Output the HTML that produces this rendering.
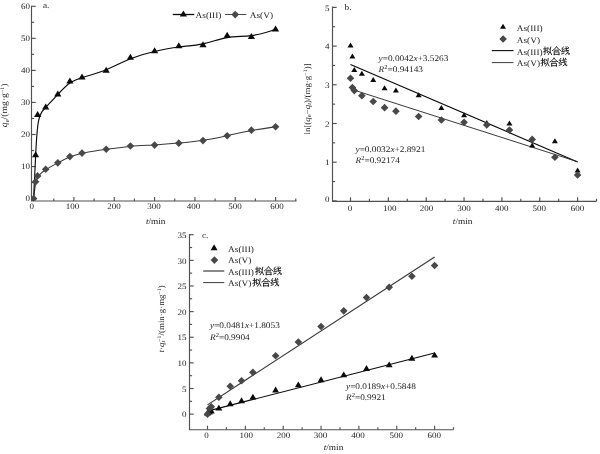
<!DOCTYPE html>
<html><head><meta charset="utf-8"><title>chart</title>
<style>
html,body{margin:0;padding:0;background:#fff;}
body{width:600px;height:454px;overflow:hidden;font-family:"Liberation Serif",serif;}
svg{display:block;will-change:transform;}
text{font-family:"Liberation Serif",serif;fill:#1c1c1c;text-rendering:geometricPrecision;}
.i{font-style:italic}
</style></head><body>
<svg width="600" height="454" viewBox="0 0 600 454">

<rect width="600" height="454" fill="#fff"/>

<g stroke="#505050" stroke-width="1.15" fill="none"><path d="M31.5 5.7V201H296.5"/><path d="M33.60 201v-4"/><path d="M73.93 201v-4"/><path d="M114.26 201v-4"/><path d="M154.59 201v-4"/><path d="M194.92 201v-4"/><path d="M235.25 201v-4"/><path d="M275.58 201v-4"/><path d="M53.77 201v-2.5"/><path d="M94.09 201v-2.5"/><path d="M134.43 201v-2.5"/><path d="M174.75 201v-2.5"/><path d="M215.08 201v-2.5"/><path d="M255.41 201v-2.5"/><path d="M295.75 201v-2.5"/><path d="M31.5 198.60h4.2"/><path d="M31.5 166.55h4.2"/><path d="M31.5 134.50h4.2"/><path d="M31.5 102.45h4.2"/><path d="M31.5 70.40h4.2"/><path d="M31.5 38.35h4.2"/><path d="M31.5 6.30h4.2"/><path d="M31.5 182.57h2.6"/><path d="M31.5 150.52h2.6"/><path d="M31.5 118.47h2.6"/><path d="M31.5 86.42h2.6"/><path d="M31.5 54.38h2.6"/><path d="M31.5 22.32h2.6"/></g><text transform="translate(31.80 208.70) scale(1.08 1)" font-size="8.33" text-anchor="middle" >0</text><text transform="translate(72.50 208.70) scale(1.08 1)" font-size="8.33" text-anchor="middle" >100</text><text transform="translate(114.00 208.70) scale(1.08 1)" font-size="8.33" text-anchor="middle" >200</text><text transform="translate(154.00 208.70) scale(1.08 1)" font-size="8.33" text-anchor="middle" >300</text><text transform="translate(193.40 208.70) scale(1.08 1)" font-size="8.33" text-anchor="middle" >400</text><text transform="translate(234.90 208.70) scale(1.08 1)" font-size="8.33" text-anchor="middle" >500</text><text transform="translate(276.90 208.70) scale(1.08 1)" font-size="8.33" text-anchor="middle" >600</text><text transform="translate(29.90 201.40) scale(1.08 1)" font-size="8.33" text-anchor="end" >0</text><text transform="translate(29.90 169.35) scale(1.08 1)" font-size="8.33" text-anchor="end" >10</text><text transform="translate(29.90 137.30) scale(1.08 1)" font-size="8.33" text-anchor="end" >20</text><text transform="translate(29.90 105.25) scale(1.08 1)" font-size="8.33" text-anchor="end" >30</text><text transform="translate(29.90 73.20) scale(1.08 1)" font-size="8.33" text-anchor="end" >40</text><text transform="translate(29.90 41.15) scale(1.08 1)" font-size="8.33" text-anchor="end" >50</text><text transform="translate(29.90 9.10) scale(1.08 1)" font-size="8.33" text-anchor="end" >60</text>
<path d="M33.60 198.60C33.60 198.60 33.60 198.60 33.94 195.78C34.27 192.97 34.94 187.34 35.62 183.56C36.29 179.78 36.96 177.84 38.64 175.76C40.32 173.69 43.01 171.46 46.37 169.28C49.73 167.11 53.77 164.97 57.80 162.86C61.83 160.76 65.86 158.69 69.90 157.06C73.93 155.44 77.96 154.26 84.01 153.04C90.06 151.81 98.13 150.53 106.19 149.35C114.26 148.17 122.33 147.11 130.39 146.41C138.46 145.72 146.52 145.40 154.59 144.92C162.66 144.44 170.72 143.79 178.79 143.05C186.85 142.30 194.92 141.44 202.99 140.22C211.05 138.99 219.12 137.38 227.18 135.65C235.25 133.91 243.32 132.04 251.38 130.55C259.45 129.05 267.51 127.93 271.55 127.37C275.58 126.81 275.58 126.81 275.58 126.81" fill="none" stroke="#3a3a3a" stroke-width="1.05"/>
<path d="M33.60 198.60C33.60 198.60 33.60 198.60 33.94 191.39C34.27 184.18 34.94 169.75 35.62 155.81C36.29 141.87 36.96 128.41 38.64 120.45C40.32 112.49 43.01 110.04 46.37 106.62C49.73 103.20 53.77 98.82 57.80 94.49C61.83 90.16 65.86 85.89 69.90 83.06C73.93 80.23 77.96 78.84 84.01 77.02C90.06 75.21 98.13 72.96 106.19 69.68C114.26 66.39 122.33 62.07 130.39 58.81C138.46 55.55 146.52 53.36 154.59 51.46C162.66 49.57 170.72 47.96 178.79 46.98C186.85 45.99 194.92 45.61 202.99 43.85C211.05 42.09 219.12 38.94 227.18 37.58C235.25 36.21 243.32 36.64 251.38 35.57C259.45 34.50 267.51 31.94 271.55 30.66C275.58 29.38 275.58 29.38 275.58 29.38" fill="none" stroke="#0a0a0a" stroke-width="1.15"/>
<clipPath id="ca"><rect x="31.5" y="0" width="270" height="201"/></clipPath><g clip-path="url(#ca)">
<path d="M29.80 198.60L33.60 194.80L37.40 198.60L33.60 202.40Z" fill="#484848"/>
<path d="M31.82 181.71L35.62 177.91L39.42 181.71L35.62 185.51Z" fill="#484848"/>
<path d="M33.83 175.91L37.63 172.11L41.43 175.91L37.63 179.71Z" fill="#484848"/>
<path d="M41.90 169.24L45.70 165.44L49.50 169.24L45.70 173.04Z" fill="#484848"/>
<path d="M54.00 162.83L57.80 159.03L61.60 162.83L57.80 166.63Z" fill="#484848"/>
<path d="M66.10 156.61L69.90 152.81L73.70 156.61L69.90 160.41Z" fill="#484848"/>
<path d="M78.20 153.09L82.00 149.29L85.80 153.09L82.00 156.89Z" fill="#484848"/>
<path d="M102.39 149.24L106.19 145.44L109.99 149.24L106.19 153.04Z" fill="#484848"/>
<path d="M126.59 146.04L130.39 142.24L134.19 146.04L130.39 149.84Z" fill="#484848"/>
<path d="M150.79 145.08L154.59 141.28L158.39 145.08L154.59 148.88Z" fill="#484848"/>
<path d="M174.99 143.15L178.79 139.35L182.59 143.15L178.79 146.95Z" fill="#484848"/>
<path d="M199.19 140.59L202.99 136.79L206.79 140.59L202.99 144.39Z" fill="#484848"/>
<path d="M223.38 135.78L227.18 131.98L230.98 135.78L227.18 139.58Z" fill="#484848"/>
<path d="M247.58 130.17L251.38 126.37L255.18 130.17L251.38 133.97Z" fill="#484848"/>
<path d="M271.78 126.81L275.58 123.01L279.38 126.81L275.58 130.61Z" fill="#484848"/>
</g>
<path d="M32.02 157.33L39.22 157.33L35.62 151.33Z" fill="#0a0a0a"/>
<path d="M34.03 116.95L41.23 116.95L37.63 110.95Z" fill="#0a0a0a"/>
<path d="M42.10 109.58L49.30 109.58L45.70 103.58Z" fill="#0a0a0a"/>
<path d="M54.20 96.44L61.40 96.44L57.80 90.44Z" fill="#0a0a0a"/>
<path d="M66.30 83.62L73.50 83.62L69.90 77.62Z" fill="#0a0a0a"/>
<path d="M78.40 79.45L85.60 79.45L82.00 73.45Z" fill="#0a0a0a"/>
<path d="M102.59 72.72L109.79 72.72L106.19 66.72Z" fill="#0a0a0a"/>
<path d="M126.79 59.74L133.99 59.74L130.39 53.74Z" fill="#0a0a0a"/>
<path d="M150.99 53.17L158.19 53.17L154.59 47.17Z" fill="#0a0a0a"/>
<path d="M175.19 48.36L182.39 48.36L178.79 42.36Z" fill="#0a0a0a"/>
<path d="M199.39 47.24L206.59 47.24L202.99 41.24Z" fill="#0a0a0a"/>
<path d="M223.58 37.79L230.78 37.79L227.18 31.79Z" fill="#0a0a0a"/>
<path d="M247.78 39.07L254.98 39.07L251.38 33.07Z" fill="#0a0a0a"/>
<path d="M271.98 31.38L279.18 31.38L275.58 25.38Z" fill="#0a0a0a"/>
<text transform="translate(43.00 7.70) scale(1.08 1)" font-size="8.61" text-anchor="start" >a.</text>
<path d="M172.8 14.5H194.3" stroke="#0a0a0a" stroke-width="1.3"/>
<path d="M179.80 16.60L187.00 16.60L183.40 10.60Z" fill="#0a0a0a"/>
<text transform="translate(195.60 17.60) scale(1.08 1)" font-size="8.61" text-anchor="start" >As(III)</text>
<path d="M225 14.5H246.3" stroke="#484848" stroke-width="1"/>
<path d="M231.40 14.60L235.20 10.80L239.00 14.60L235.20 18.40Z" fill="#484848"/>
<text transform="translate(249.80 17.60) scale(1.08 1)" font-size="8.61" text-anchor="start" >As(V)</text>
<text transform="translate(155.70 224.20) scale(1.08 1)" font-size="8.61" text-anchor="middle" ><tspan class="i">t</tspan>/min</text>
<g transform="translate(7.4,105.3) rotate(-90)"><text transform="translate(0.00 0.00) scale(1.08 1)" font-size="8.98" text-anchor="middle" ><tspan class="i">q</tspan><tspan font-size="6" dy="1.5">e</tspan><tspan dy="-1.5">/(mg·g</tspan><tspan font-size="5.5" dy="-3">−1</tspan><tspan dy="3">)</tspan></text></g>
<g stroke="#505050" stroke-width="1.15" fill="none"><path d="M332.5 6.5V201.3H596.5"/><path d="M350.50 201.3v-4"/><path d="M388.35 201.3v-4"/><path d="M426.20 201.3v-4"/><path d="M464.05 201.3v-4"/><path d="M501.90 201.3v-4"/><path d="M539.75 201.3v-4"/><path d="M577.60 201.3v-4"/><path d="M369.43 201.3v-2.5"/><path d="M407.27 201.3v-2.5"/><path d="M445.12 201.3v-2.5"/><path d="M482.98 201.3v-2.5"/><path d="M520.83 201.3v-2.5"/><path d="M558.67 201.3v-2.5"/><path d="M596.52 201.3v-2.5"/><path d="M332.5 200.90h4.2"/><path d="M332.5 162.20h4.2"/><path d="M332.5 123.50h4.2"/><path d="M332.5 84.80h4.2"/><path d="M332.5 46.10h4.2"/><path d="M332.5 7.40h4.2"/><path d="M332.5 181.55h2.6"/><path d="M332.5 142.85h2.6"/><path d="M332.5 104.15h2.6"/><path d="M332.5 65.45h2.6"/><path d="M332.5 26.75h2.6"/></g><text transform="translate(349.90 211.10) scale(1.08 1)" font-size="8.33" text-anchor="middle" >0</text><text transform="translate(389.80 211.10) scale(1.08 1)" font-size="8.33" text-anchor="middle" >100</text><text transform="translate(426.60 211.10) scale(1.08 1)" font-size="8.33" text-anchor="middle" >200</text><text transform="translate(464.10 211.10) scale(1.08 1)" font-size="8.33" text-anchor="middle" >300</text><text transform="translate(501.80 211.10) scale(1.08 1)" font-size="8.33" text-anchor="middle" >400</text><text transform="translate(539.20 211.10) scale(1.08 1)" font-size="8.33" text-anchor="middle" >500</text><text transform="translate(577.60 211.10) scale(1.08 1)" font-size="8.33" text-anchor="middle" >600</text><text transform="translate(329.50 202.10) scale(1.08 1)" font-size="8.33" text-anchor="end" >0</text><text transform="translate(329.50 165.30) scale(1.08 1)" font-size="8.33" text-anchor="end" >1</text><text transform="translate(329.50 126.60) scale(1.08 1)" font-size="8.33" text-anchor="end" >2</text><text transform="translate(329.50 87.90) scale(1.08 1)" font-size="8.33" text-anchor="end" >3</text><text transform="translate(329.50 49.20) scale(1.08 1)" font-size="8.33" text-anchor="end" >4</text><text transform="translate(329.50 10.50) scale(1.08 1)" font-size="8.33" text-anchor="end" >5</text>
<path d="M350.50 64.43L577.60 161.96" stroke="#0a0a0a" stroke-width="1.2"/>
<path d="M350.50 88.98L577.60 161.74" stroke="#2e2e2e" stroke-width="0.95"/>
<path d="M347.50 47.61L353.50 47.61L350.50 42.61Z" fill="#0a0a0a"/>
<path d="M349.39 58.44L355.39 58.44L352.39 53.44Z" fill="#0a0a0a"/>
<path d="M351.29 71.99L357.29 71.99L354.29 66.99Z" fill="#0a0a0a"/>
<path d="M358.86 75.86L364.86 75.86L361.86 70.86Z" fill="#0a0a0a"/>
<path d="M370.21 82.05L376.21 82.05L373.21 77.05Z" fill="#0a0a0a"/>
<path d="M381.56 90.18L387.56 90.18L384.56 85.18Z" fill="#0a0a0a"/>
<path d="M392.92 92.50L398.92 92.50L395.92 87.50Z" fill="#0a0a0a"/>
<path d="M415.63 97.14L421.63 97.14L418.63 92.14Z" fill="#0a0a0a"/>
<path d="M438.34 109.91L444.34 109.91L441.34 104.91Z" fill="#0a0a0a"/>
<path d="M461.05 117.27L467.05 117.27L464.05 112.27Z" fill="#0a0a0a"/>
<path d="M483.76 125.01L489.76 125.01L486.76 120.01Z" fill="#0a0a0a"/>
<path d="M506.47 125.39L512.47 125.39L509.47 120.39Z" fill="#0a0a0a"/>
<path d="M529.18 147.45L535.18 147.45L532.18 142.45Z" fill="#0a0a0a"/>
<path d="M551.89 143.19L557.89 143.19L554.89 138.19Z" fill="#0a0a0a"/>
<path d="M574.60 172.61L580.60 172.61L577.60 167.61Z" fill="#0a0a0a"/>
<path d="M346.70 78.23L350.50 74.43L354.30 78.23L350.50 82.03Z" fill="#484848"/>
<path d="M348.59 87.52L352.39 83.72L356.19 87.52L352.39 91.32Z" fill="#484848"/>
<path d="M350.49 90.62L354.29 86.82L358.09 90.62L354.29 94.42Z" fill="#484848"/>
<path d="M358.06 95.65L361.86 91.85L365.66 95.65L361.86 99.45Z" fill="#484848"/>
<path d="M369.41 101.45L373.21 97.65L377.01 101.45L373.21 105.25Z" fill="#484848"/>
<path d="M380.76 107.65L384.56 103.85L388.37 107.65L384.56 111.45Z" fill="#484848"/>
<path d="M392.12 111.13L395.92 107.33L399.72 111.13L395.92 114.93Z" fill="#484848"/>
<path d="M414.83 116.55L418.63 112.75L422.43 116.55L418.63 120.35Z" fill="#484848"/>
<path d="M437.54 120.03L441.34 116.23L445.14 120.03L441.34 123.83Z" fill="#484848"/>
<path d="M460.25 122.35L464.05 118.55L467.85 122.35L464.05 126.15Z" fill="#484848"/>
<path d="M482.96 125.06L486.76 121.26L490.56 125.06L486.76 128.86Z" fill="#484848"/>
<path d="M505.67 130.09L509.47 126.29L513.27 130.09L509.47 133.89Z" fill="#484848"/>
<path d="M528.38 139.38L532.18 135.58L535.98 139.38L532.18 143.18Z" fill="#484848"/>
<path d="M551.09 157.18L554.89 153.38L558.69 157.18L554.89 160.98Z" fill="#484848"/>
<path d="M573.80 174.98L577.60 171.18L581.40 174.98L577.60 178.78Z" fill="#484848"/>
<text transform="translate(344.50 9.50) scale(1.08 1)" font-size="8.61" text-anchor="start" >b.</text>
<path d="M500.00 28.87L506.00 28.87L503.00 23.87Z" fill="#0a0a0a"/>
<path d="M499.30 39.00L503.10 35.20L506.90 39.00L503.10 42.80Z" fill="#484848"/>
<path d="M491.8 50.6H513.5" stroke="#0a0a0a" stroke-width="1.1"/>
<path d="M491.8 62.6H513.5" stroke="#222" stroke-width="0.9"/>
<text transform="translate(516.80 31.00) scale(1.08 1)" font-size="8.61" text-anchor="start" >As(III)</text>
<text transform="translate(516.80 42.80) scale(1.08 1)" font-size="8.61" text-anchor="start" >As(V)</text>
<text transform="translate(516.80 54.60) scale(1.08 1)" font-size="8.61" text-anchor="start" >As(III)</text>
<g transform="translate(543.00 54.50) scale(1.0)"><g fill="none" stroke="#1c1c1c" stroke-width="0.92" stroke-linecap="round" stroke-linejoin="round">
<!-- 拟 -->
<path d="M0.6 -5.6H3.2M2 -7.6V-0.4Q2 0.3 1.2 0.1M0.5 -2.6L3.3 -3.9"/>
<path d="M4.2 -6.8V-1.6L5.6 -3M5.5 -6.6L6.2 -5.2M7.8 -7.4Q7.8 -2.4 5.2 0.3M7.2 -2.8L8.6 0.2"/>
<!-- 合 -->
<path d="M13.5 -7.8Q12 -5.2 9.4 -3.8M13.5 -7.8Q15 -5.2 17.8 -3.8M11.6 -4.3H15.6M11.2 -2.6V0.4M11.2 -2.6H16V0.4M11.2 -0.2H16"/>
<!-- 线 -->
<path d="M20.4 -7.6L18.8 -5.4L20.6 -5.2L18.6 -2.6L21 -3M18.6 -0.6L21 -1.4"/>
<path d="M21.6 -5.6L25.4 -6.2M21.4 -3.4L25.8 -4.2M23 -7.8Q23.4 -2 26 0.2L26.3 -1M25.6 -2.6L22.6 0M24.8 -7.6L25.6 -6.9"/>
</g></g>
<text transform="translate(516.80 66.00) scale(1.08 1)" font-size="8.61" text-anchor="start" >As(V)</text>
<g transform="translate(540.50 65.90) scale(1.0)"><g fill="none" stroke="#1c1c1c" stroke-width="0.92" stroke-linecap="round" stroke-linejoin="round">
<!-- 拟 -->
<path d="M0.6 -5.6H3.2M2 -7.6V-0.4Q2 0.3 1.2 0.1M0.5 -2.6L3.3 -3.9"/>
<path d="M4.2 -6.8V-1.6L5.6 -3M5.5 -6.6L6.2 -5.2M7.8 -7.4Q7.8 -2.4 5.2 0.3M7.2 -2.8L8.6 0.2"/>
<!-- 合 -->
<path d="M13.5 -7.8Q12 -5.2 9.4 -3.8M13.5 -7.8Q15 -5.2 17.8 -3.8M11.6 -4.3H15.6M11.2 -2.6V0.4M11.2 -2.6H16V0.4M11.2 -0.2H16"/>
<!-- 线 -->
<path d="M20.4 -7.6L18.8 -5.4L20.6 -5.2L18.6 -2.6L21 -3M18.6 -0.6L21 -1.4"/>
<path d="M21.6 -5.6L25.4 -6.2M21.4 -3.4L25.8 -4.2M23 -7.8Q23.4 -2 26 0.2L26.3 -1M25.6 -2.6L22.6 0M24.8 -7.6L25.6 -6.9"/>
</g></g>
<text transform="translate(378.60 61.00) scale(1.08 1)" font-size="8.61" text-anchor="start" ><tspan class="i">y</tspan>=0.0042<tspan class="i">x</tspan>+3.5263</text>
<text transform="translate(378.60 72.00) scale(1.08 1)" font-size="8.61" text-anchor="start" ><tspan class="i">R</tspan><tspan font-size="6" dy="-3">2</tspan><tspan dy="3">=0.94143</tspan></text>
<text transform="translate(355.50 151.50) scale(1.08 1)" font-size="8.61" text-anchor="start" ><tspan class="i">y</tspan>=0.0032<tspan class="i">x</tspan>+2.8921</text>
<text transform="translate(355.50 163.00) scale(1.08 1)" font-size="8.61" text-anchor="start" ><tspan class="i">R</tspan><tspan font-size="6" dy="-3">2</tspan><tspan dy="3">=0.92174</tspan></text>
<text transform="translate(462.60 224.00) scale(1.08 1)" font-size="8.61" text-anchor="middle" ><tspan class="i">t</tspan>/min</text>
<g transform="translate(309.5,99) rotate(-90)"><text transform="translate(0.00 0.00) scale(1.08 1)" font-size="8.29" text-anchor="middle" >ln[(<tspan class="i">q</tspan><tspan font-size="6" dy="1.5">e</tspan><tspan dy="-1.5">−</tspan><tspan class="i">q</tspan><tspan font-size="6" dy="1.5" class="i">t</tspan><tspan dy="-1.5">)/(mg·g</tspan><tspan font-size="5.5" dy="-3">−1</tspan><tspan dy="3">)]</tspan></text></g>
<g stroke="#505050" stroke-width="1.15" fill="none"><path d="M189.5 234V429.7H453.5"/><path d="M207.50 429.7v-4"/><path d="M245.35 429.7v-4"/><path d="M283.20 429.7v-4"/><path d="M321.05 429.7v-4"/><path d="M358.90 429.7v-4"/><path d="M396.75 429.7v-4"/><path d="M434.60 429.7v-4"/><path d="M226.43 429.7v-2.5"/><path d="M264.27 429.7v-2.5"/><path d="M302.12 429.7v-2.5"/><path d="M339.98 429.7v-2.5"/><path d="M377.82 429.7v-2.5"/><path d="M415.68 429.7v-2.5"/><path d="M453.52 429.7v-2.5"/><path d="M189.5 414.15h4.2"/><path d="M189.5 388.51h4.2"/><path d="M189.5 362.88h4.2"/><path d="M189.5 337.25h4.2"/><path d="M189.5 311.61h4.2"/><path d="M189.5 285.98h4.2"/><path d="M189.5 260.34h4.2"/><path d="M189.5 234.70h4.2"/><path d="M189.5 401.33h2.6"/><path d="M189.5 375.70h2.6"/><path d="M189.5 350.06h2.6"/><path d="M189.5 324.43h2.6"/><path d="M189.5 298.79h2.6"/><path d="M189.5 273.16h2.6"/><path d="M189.5 247.52h2.6"/></g><text transform="translate(206.40 438.20) scale(1.08 1)" font-size="8.33" text-anchor="middle" >0</text><text transform="translate(246.20 438.20) scale(1.08 1)" font-size="8.33" text-anchor="middle" >100</text><text transform="translate(283.40 438.20) scale(1.08 1)" font-size="8.33" text-anchor="middle" >200</text><text transform="translate(320.40 438.20) scale(1.08 1)" font-size="8.33" text-anchor="middle" >300</text><text transform="translate(358.00 438.20) scale(1.08 1)" font-size="8.33" text-anchor="middle" >400</text><text transform="translate(396.30 438.20) scale(1.08 1)" font-size="8.33" text-anchor="middle" >500</text><text transform="translate(434.30 438.20) scale(1.08 1)" font-size="8.33" text-anchor="middle" >600</text><text transform="translate(186.50 417.35) scale(1.08 1)" font-size="8.33" text-anchor="end" >0</text><text transform="translate(186.50 391.71) scale(1.08 1)" font-size="8.33" text-anchor="end" >5</text><text transform="translate(186.50 366.08) scale(1.08 1)" font-size="8.33" text-anchor="end" >10</text><text transform="translate(186.50 340.44) scale(1.08 1)" font-size="8.33" text-anchor="end" >15</text><text transform="translate(186.50 314.81) scale(1.08 1)" font-size="8.33" text-anchor="end" >20</text><text transform="translate(186.50 289.18) scale(1.08 1)" font-size="8.33" text-anchor="end" >25</text><text transform="translate(186.50 263.54) scale(1.08 1)" font-size="8.33" text-anchor="end" >30</text><text transform="translate(186.50 237.90) scale(1.08 1)" font-size="8.33" text-anchor="end" >35</text>
<path d="M207.50 404.89L434.60 256.93" stroke="#383838" stroke-width="1.15"/>
<path d="M207.50 411.15L434.60 353.01" stroke="#0a0a0a" stroke-width="1.2"/>
<path d="M204.05 415.49L210.95 415.49L207.50 409.59Z" fill="#0a0a0a"/>
<path d="M205.94 414.47L212.84 414.47L209.39 408.57Z" fill="#0a0a0a"/>
<path d="M207.84 413.44L214.73 413.44L211.28 407.54Z" fill="#0a0a0a"/>
<path d="M215.41 410.62L222.30 410.62L218.85 404.72Z" fill="#0a0a0a"/>
<path d="M226.76 406.26L233.66 406.26L230.21 400.36Z" fill="#0a0a0a"/>
<path d="M238.12 403.19L245.01 403.19L241.56 397.29Z" fill="#0a0a0a"/>
<path d="M249.47 399.60L256.37 399.60L252.92 393.70Z" fill="#0a0a0a"/>
<path d="M272.18 392.42L279.08 392.42L275.63 386.52Z" fill="#0a0a0a"/>
<path d="M294.89 387.29L301.79 387.29L298.34 381.39Z" fill="#0a0a0a"/>
<path d="M317.60 382.17L324.50 382.17L321.05 376.27Z" fill="#0a0a0a"/>
<path d="M340.31 377.30L347.21 377.30L343.76 371.40Z" fill="#0a0a0a"/>
<path d="M363.02 370.89L369.92 370.89L366.47 364.99Z" fill="#0a0a0a"/>
<path d="M385.73 367.30L392.63 367.30L389.18 361.40Z" fill="#0a0a0a"/>
<path d="M408.44 360.63L415.34 360.63L411.89 354.73Z" fill="#0a0a0a"/>
<path d="M431.15 357.56L438.05 357.56L434.60 351.66Z" fill="#0a0a0a"/>
<path d="M203.70 414.15L207.50 410.35L211.30 414.15L207.50 417.95Z" fill="#484848"/>
<path d="M205.59 408.51L209.39 404.71L213.19 408.51L209.39 412.31Z" fill="#484848"/>
<path d="M207.48 406.72L211.28 402.92L215.09 406.72L211.28 410.52Z" fill="#484848"/>
<path d="M215.05 397.23L218.85 393.43L222.66 397.23L218.85 401.03Z" fill="#484848"/>
<path d="M226.41 386.21L230.21 382.41L234.01 386.21L230.21 390.01Z" fill="#484848"/>
<path d="M237.76 380.82L241.56 377.02L245.37 380.82L241.56 384.62Z" fill="#484848"/>
<path d="M249.12 372.36L252.92 368.56L256.72 372.36L252.92 376.16Z" fill="#484848"/>
<path d="M271.83 355.70L275.63 351.90L279.43 355.70L275.63 359.50Z" fill="#484848"/>
<path d="M294.54 342.01L298.34 338.21L302.14 342.01L298.34 345.81Z" fill="#484848"/>
<path d="M317.25 326.48L321.05 322.68L324.85 326.48L321.05 330.28Z" fill="#484848"/>
<path d="M339.96 310.84L343.76 307.04L347.56 310.84L343.76 314.64Z" fill="#484848"/>
<path d="M362.67 297.51L366.47 293.71L370.27 297.51L366.47 301.31Z" fill="#484848"/>
<path d="M385.38 287.21L389.18 283.41L392.98 287.21L389.18 291.01Z" fill="#484848"/>
<path d="M408.09 276.23L411.89 272.43L415.69 276.23L411.89 280.03Z" fill="#484848"/>
<path d="M430.80 265.47L434.60 261.67L438.40 265.47L434.60 269.27Z" fill="#484848"/>
<text transform="translate(202.00 237.50) scale(1.08 1)" font-size="8.61" text-anchor="start" >c.</text>
<path d="M210.65 250.27L217.55 250.27L214.10 244.37Z" fill="#0a0a0a"/>
<path d="M210.60 260.10L214.40 256.30L218.20 260.10L214.40 263.90Z" fill="#484848"/>
<path d="M203.2 271H224.3" stroke="#4a4a4a" stroke-width="1.3"/>
<path d="M203.2 282.6H224.3" stroke="#222" stroke-width="0.9"/>
<text transform="translate(228.10 251.50) scale(1.08 1)" font-size="8.61" text-anchor="start" >As(III)</text>
<text transform="translate(228.10 263.30) scale(1.08 1)" font-size="8.61" text-anchor="start" >As(V)</text>
<text transform="translate(228.10 274.60) scale(1.08 1)" font-size="8.61" text-anchor="start" >As(III)</text>
<g transform="translate(255.00 274.60) scale(1.0)"><g fill="none" stroke="#1c1c1c" stroke-width="0.92" stroke-linecap="round" stroke-linejoin="round">
<!-- 拟 -->
<path d="M0.6 -5.6H3.2M2 -7.6V-0.4Q2 0.3 1.2 0.1M0.5 -2.6L3.3 -3.9"/>
<path d="M4.2 -6.8V-1.6L5.6 -3M5.5 -6.6L6.2 -5.2M7.8 -7.4Q7.8 -2.4 5.2 0.3M7.2 -2.8L8.6 0.2"/>
<!-- 合 -->
<path d="M13.5 -7.8Q12 -5.2 9.4 -3.8M13.5 -7.8Q15 -5.2 17.8 -3.8M11.6 -4.3H15.6M11.2 -2.6V0.4M11.2 -2.6H16V0.4M11.2 -0.2H16"/>
<!-- 线 -->
<path d="M20.4 -7.6L18.8 -5.4L20.6 -5.2L18.6 -2.6L21 -3M18.6 -0.6L21 -1.4"/>
<path d="M21.6 -5.6L25.4 -6.2M21.4 -3.4L25.8 -4.2M23 -7.8Q23.4 -2 26 0.2L26.3 -1M25.6 -2.6L22.6 0M24.8 -7.6L25.6 -6.9"/>
</g></g>
<text transform="translate(228.10 286.00) scale(1.08 1)" font-size="8.61" text-anchor="start" >As(V)</text>
<g transform="translate(252.40 286.00) scale(1.0)"><g fill="none" stroke="#1c1c1c" stroke-width="0.92" stroke-linecap="round" stroke-linejoin="round">
<!-- 拟 -->
<path d="M0.6 -5.6H3.2M2 -7.6V-0.4Q2 0.3 1.2 0.1M0.5 -2.6L3.3 -3.9"/>
<path d="M4.2 -6.8V-1.6L5.6 -3M5.5 -6.6L6.2 -5.2M7.8 -7.4Q7.8 -2.4 5.2 0.3M7.2 -2.8L8.6 0.2"/>
<!-- 合 -->
<path d="M13.5 -7.8Q12 -5.2 9.4 -3.8M13.5 -7.8Q15 -5.2 17.8 -3.8M11.6 -4.3H15.6M11.2 -2.6V0.4M11.2 -2.6H16V0.4M11.2 -0.2H16"/>
<!-- 线 -->
<path d="M20.4 -7.6L18.8 -5.4L20.6 -5.2L18.6 -2.6L21 -3M18.6 -0.6L21 -1.4"/>
<path d="M21.6 -5.6L25.4 -6.2M21.4 -3.4L25.8 -4.2M23 -7.8Q23.4 -2 26 0.2L26.3 -1M25.6 -2.6L22.6 0M24.8 -7.6L25.6 -6.9"/>
</g></g>
<text transform="translate(210.00 328.10) scale(1.08 1)" font-size="8.61" text-anchor="start" ><tspan class="i">y</tspan>=0.0481<tspan class="i">x</tspan>+1.8053</text>
<text transform="translate(210.00 339.50) scale(1.08 1)" font-size="8.61" text-anchor="start" ><tspan class="i">R</tspan><tspan font-size="6" dy="-3">2</tspan><tspan dy="3">=0.9904</tspan></text>
<text transform="translate(346.00 388.50) scale(1.08 1)" font-size="8.61" text-anchor="start" ><tspan class="i">y</tspan>=0.0189<tspan class="i">x</tspan>+0.5848</text>
<text transform="translate(346.00 400.00) scale(1.08 1)" font-size="8.61" text-anchor="start" ><tspan class="i">R</tspan><tspan font-size="6" dy="-3">2</tspan><tspan dy="3">=0.9921</tspan></text>
<text transform="translate(333.50 450.00) scale(1.08 1)" font-size="8.61" text-anchor="middle" ><tspan class="i">t</tspan>/min</text>
<g transform="translate(163.6,318.8) rotate(-90)"><text transform="translate(0.00 0.00) scale(1.08 1)" font-size="8.24" text-anchor="middle" ><tspan class="i">t</tspan>·<tspan class="i">q</tspan><tspan font-size="6" dy="1.5" class="i">t</tspan><tspan font-size="5.5" dy="-4.5" dx="-1">−1</tspan><tspan dy="3">/(min·g·mg</tspan><tspan font-size="5.5" dy="-3">−1</tspan><tspan dy="3">)</tspan></text></g>
</svg></body></html>
